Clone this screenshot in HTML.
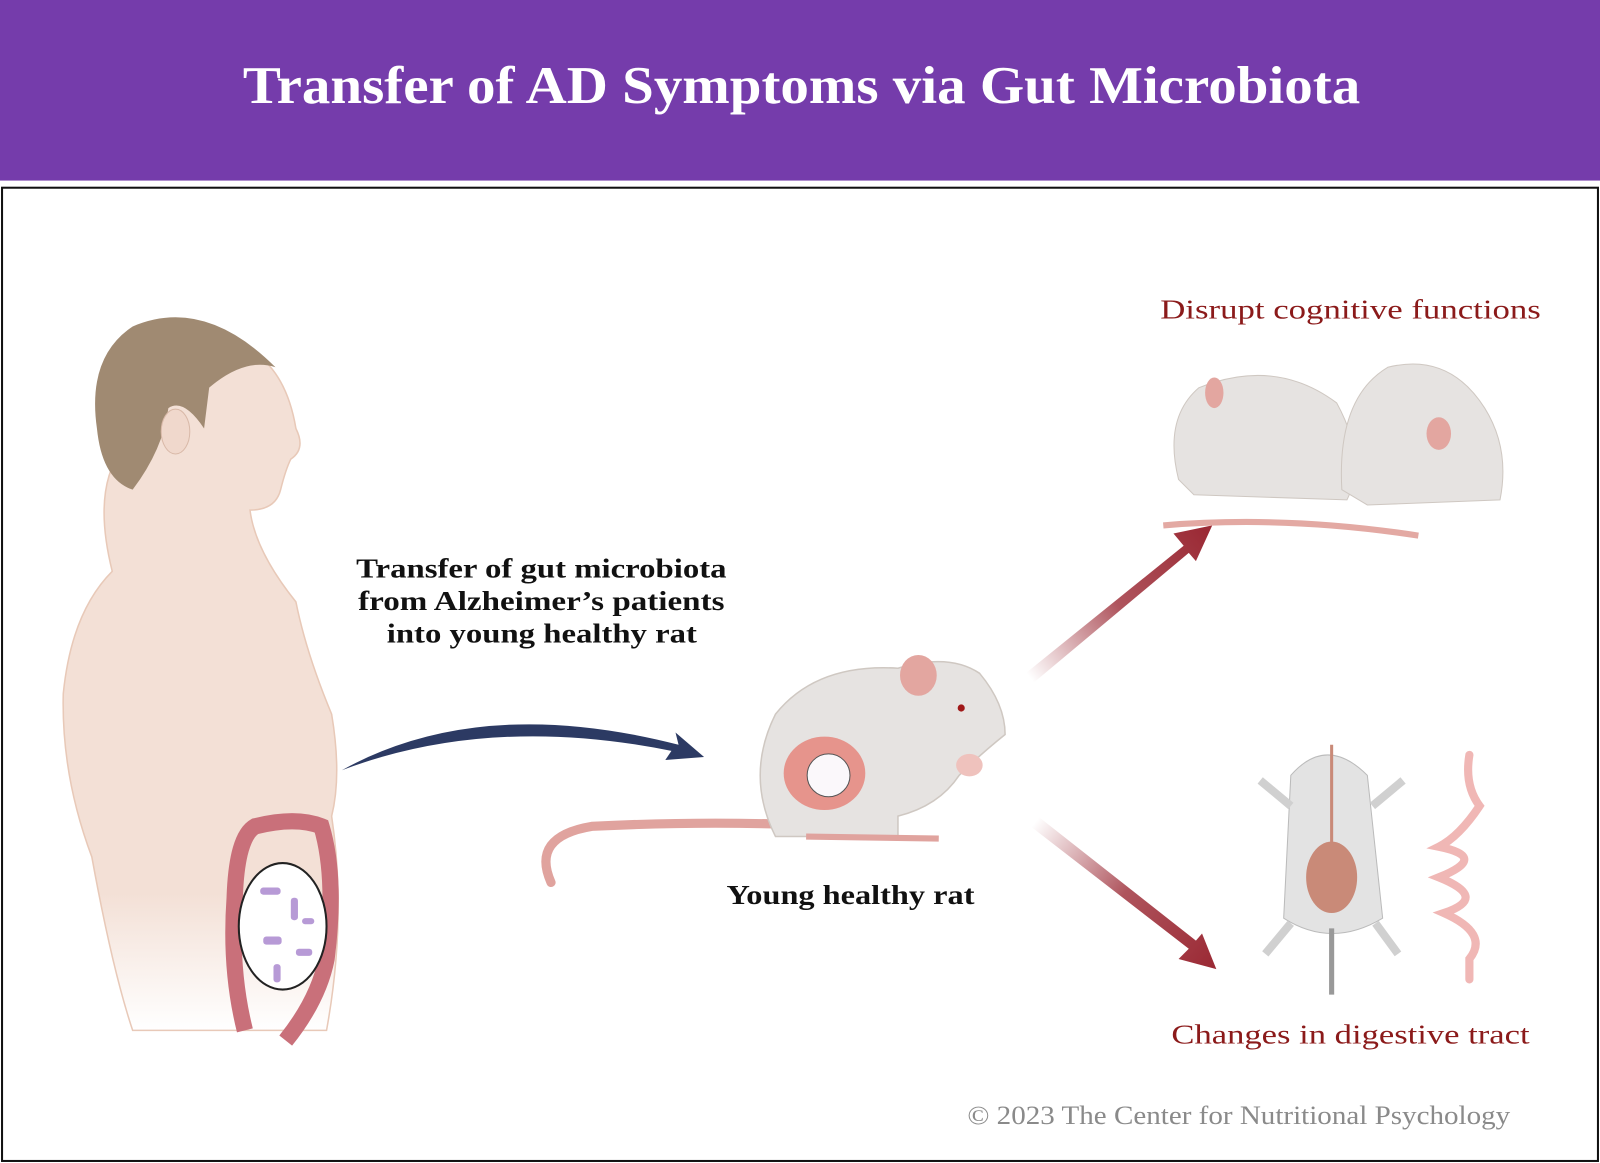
<!DOCTYPE html>
<html><head><meta charset="utf-8"><style>
html,body{margin:0;padding:0;background:#fff;width:1600px;height:1163px;overflow:hidden}
svg{display:block}
text{font-family:"Liberation Serif",serif}
</style></head><body>
<svg width="1600" height="1163" viewBox="0 0 1568 1140" preserveAspectRatio="none">
<defs>
<linearGradient id="ga" x1="1010" y1="665" x2="1185" y2="525" gradientUnits="userSpaceOnUse"><stop offset="0" stop-color="#9b2a35" stop-opacity="0"/><stop offset="0.5" stop-color="#9b2a35" stop-opacity="0.8"/><stop offset="1" stop-color="#9b2a35"/></linearGradient>
<linearGradient id="gb" x1="1015" y1="805" x2="1190" y2="945" gradientUnits="userSpaceOnUse"><stop offset="0" stop-color="#9b2a35" stop-opacity="0"/><stop offset="0.5" stop-color="#9b2a35" stop-opacity="0.8"/><stop offset="1" stop-color="#9b2a35"/></linearGradient>
<linearGradient id="skin" x1="0" y1="0" x2="0" y2="1"><stop offset="0.8" stop-color="#f3e0d6"/><stop offset="1" stop-color="#f3e0d6" stop-opacity="0"/></linearGradient>
</defs>
<rect x="0" y="0" width="1568" height="177" fill="#753cab"/>
<text x="238" y="101" font-size="52" fill="#fff" font-weight="bold" textLength="1095" lengthAdjust="spacingAndGlyphs">Transfer of AD Symptoms via Gut Microbiota</text>
<rect x="2" y="184" width="1564" height="954" fill="#fff" stroke="#111" stroke-width="2"/>
<!-- human -->
<path d="M120 440 Q90 480 110 560 Q70 600 62 680 Q60 760 90 840 Q110 950 130 1010 L320 1010 Q340 900 325 800 Q335 760 325 700 Q300 640 290 590 Q250 540 245 500 Q270 500 275 480 Q280 460 285 450 Q300 440 290 420 Q280 360 240 340 Q180 330 130 380 Z" fill="url(#skin)" stroke="#e8c9b8" stroke-width="1.5"/>
<path d="M95 420 Q85 350 130 320 Q200 290 270 360 Q240 350 205 380 L200 420 Q180 390 165 400 Q160 440 130 480 Q100 470 95 420Z" fill="#a08a72"/>
<ellipse cx="172" cy="423" rx="14" ry="22" fill="#f0d8cc" stroke="#d9b9a8"/>
<!-- colon -->
<path d="M240 1010 Q225 950 230 880 Q232 820 250 810 Q290 800 315 810 Q330 860 320 940 Q312 980 280 1020" fill="none" stroke="#c9707a" stroke-width="16"/>
<ellipse cx="277" cy="908" rx="43" ry="62" fill="#fff" stroke="#222" stroke-width="2"/>
<g fill="#b79ad6"><rect x="255" y="870" width="20" height="7" rx="3"/><rect x="285" y="880" width="7" height="22" rx="3"/><rect x="258" y="918" width="18" height="8" rx="3"/><rect x="290" y="930" width="16" height="7" rx="3"/><rect x="268" y="945" width="7" height="18" rx="3"/><rect x="296" y="900" width="12" height="6" rx="3"/></g>
<!-- blue arrow -->
<path d="M335 755 Q470 680 665 730 L662 718 L690 742 L652 745 L658 736 Q480 700 335 755Z" fill="#2c3a63"/>
<text x="349" y="566" font-size="27" fill="#111" font-weight="bold" textLength="363" lengthAdjust="spacingAndGlyphs">Transfer of gut microbiota</text>
<text x="351" y="598" font-size="27" fill="#111" font-weight="bold" textLength="359" lengthAdjust="spacingAndGlyphs">from Alzheimer’s patients</text>
<text x="379" y="630" font-size="27" fill="#111" font-weight="bold" textLength="304" lengthAdjust="spacingAndGlyphs">into young healthy rat</text>
<!-- center rat -->
<path d="M540 865 Q520 820 580 810 Q680 805 770 808" fill="none" stroke="#e0a39e" stroke-width="9" stroke-linecap="round"/>
<path d="M760 820 Q730 760 760 700 Q800 650 880 655 Q930 640 960 660 Q985 690 985 720 Q960 740 940 760 Q920 790 880 800 L880 820 Z" fill="#e6e3e1" stroke="#cfc8c2" stroke-width="1.5"/>
<ellipse cx="900" cy="662" rx="18" ry="20" fill="#e3a6a0"/>
<circle cx="942" cy="694" r="3.5" fill="#a01818"/>
<ellipse cx="808" cy="758" rx="40" ry="36" fill="#e6948c"/>
<circle cx="812" cy="760" r="21" fill="#fbf8fb" stroke="#555"/>
<ellipse cx="950" cy="750" rx="13" ry="11" fill="#efc2bd"/>
<path d="M790 820 L920 822" stroke="#e0a39e" stroke-width="6"/>
<text x="712" y="886" font-size="27" fill="#111" font-weight="bold" textLength="243" lengthAdjust="spacingAndGlyphs">Young healthy rat</text>
<!-- red arrows -->
<path d="M1005 660 L1160 535 L1150 523 L1188 515 L1172 550 L1165 542 L1012 670Z" fill="url(#ga)"/>
<path d="M1010 810 L1165 930 L1155 940 L1192 950 L1178 915 L1172 922 L1017 800Z" fill="url(#gb)"/>
<text x="1137" y="312" font-size="27" fill="#8b1a1a" textLength="373" lengthAdjust="spacingAndGlyphs">Disrupt cognitive functions</text>
<text x="1148" y="1023" font-size="27" fill="#8b1a1a" textLength="351" lengthAdjust="spacingAndGlyphs">Changes in digestive tract</text>
<!-- two rats -->
<path d="M1140 515 Q1260 505 1390 525" fill="none" stroke="#e3a9a3" stroke-width="6"/>
<path d="M1155 470 Q1140 410 1175 380 Q1250 350 1310 395 Q1340 450 1320 490 L1170 485Z" fill="#e6e3e1" stroke="#cfc8c2"/>
<path d="M1315 480 Q1310 390 1360 360 Q1420 345 1455 400 Q1480 440 1470 490 L1340 495Z" fill="#e6e3e1" stroke="#cfc8c2"/>
<ellipse cx="1190" cy="385" rx="9" ry="15" fill="#e3a6a0"/>
<ellipse cx="1410" cy="425" rx="12" ry="16" fill="#e3a6a0"/>
<!-- dissected rat -->
<path d="M1265 760 Q1300 720 1340 760 L1355 900 Q1305 930 1258 900Z" fill="#e3e3e3" stroke="#bbb"/>
<path d="M1235 765 L1265 790 M1375 765 L1345 790 M1240 935 L1265 905 M1370 935 L1348 905" stroke="#d0d0d0" stroke-width="8"/>
<line x1="1305" y1="910" x2="1305" y2="975" stroke="#999" stroke-width="5"/>
<ellipse cx="1305" cy="860" rx="25" ry="35" fill="#c98a78"/>
<line x1="1305" y1="730" x2="1305" y2="830" stroke="#c98a78" stroke-width="3"/>
<path d="M1440 740 Q1435 770 1450 790 Q1430 820 1410 830 Q1460 840 1410 860 Q1460 880 1415 895 Q1460 915 1440 940 L1440 960" fill="none" stroke="#f0b7b5" stroke-width="8" stroke-linecap="round"/>
<text x="948" y="1102" font-size="26" fill="#8a8a8a" textLength="532" lengthAdjust="spacingAndGlyphs">© 2023 The Center for Nutritional Psychology</text>
</svg>
</body></html>
